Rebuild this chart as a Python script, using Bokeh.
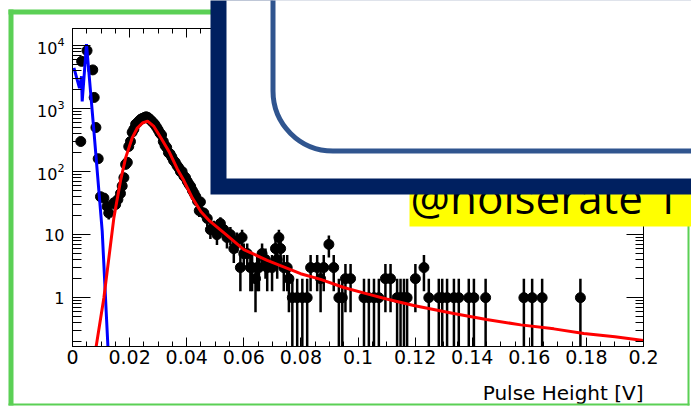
import numpy as np
from bokeh.plotting import figure
from bokeh.layouts import column
from bokeh.models import (LogAxis, LinearAxis, FixedTicker, LogTickFormatter,
                          BoxAnnotation, Label, Range1d, ColumnDataSource)
from bokeh.embed import file_html
from bokeh.resources import INLINE

# ---------------- data ----------------
pulse_height = [
    0.0029, 0.0032, 0.0051, 0.0071, 0.0076, 0.0082, 0.0090, 0.0098, 0.0110, 0.0121,
    0.0127, 0.0145, 0.0151, 0.0159, 0.0168, 0.0174, 0.0180, 0.0186, 0.0192, 0.0197,
    0.0203, 0.0209, 0.0215, 0.0221, 0.0228, 0.0234, 0.0240, 0.0246, 0.0252, 0.0258,
    0.0264, 0.0270, 0.0276, 0.0282, 0.0288, 0.0294, 0.0300, 0.0306, 0.0312, 0.0318,
    0.0324, 0.0330, 0.0336, 0.0342, 0.0348, 0.0354, 0.0360, 0.0366, 0.0372, 0.0378,
    0.0384, 0.0390, 0.0396, 0.0402, 0.0408, 0.0414, 0.0420, 0.0426, 0.0432, 0.0438,
    0.0444, 0.0448, 0.0460, 0.0472, 0.0483, 0.0495, 0.0506, 0.0518, 0.0530, 0.0541,
    0.0553, 0.0565, 0.0576, 0.0588, 0.0594, 0.0600, 0.0612, 0.0623, 0.0629, 0.0641,
    0.0647, 0.0653, 0.0664, 0.0676, 0.0682, 0.0699, 0.0711, 0.0717, 0.0723, 0.0729,
    0.0740, 0.0752, 0.0758, 0.0770, 0.0787, 0.0805, 0.0822, 0.0834, 0.0857, 0.0869,
    0.0880, 0.0898, 0.0915, 0.0933, 0.0945, 0.0956, 0.0974, 0.1021, 0.1038, 0.1056,
    0.1073, 0.1096, 0.1114, 0.1137, 0.1149, 0.1161, 0.1172, 0.1201, 0.1231, 0.1248,
    0.1283, 0.1295, 0.1312, 0.1336, 0.1353, 0.1388, 0.1406, 0.1447, 0.1581, 0.1610,
    0.1645, 0.1779,
]
entries = [
    300, 5600, 8300, 4100, 1500, 500, 160, 40, 38, 28,
    22, 32, 30, 36, 45, 59, 80, 130, 140, 250,
    300, 420, 470, 560, 600, 640, 680, 700, 720, 740,
    720, 680, 640, 600, 560, 510, 460, 410, 380, 300,
    260, 240, 200, 190, 170, 150, 140, 125, 115, 100,
    100, 85, 80, 70, 63, 58, 50, 45, 40, 34,
    24, 33, 22, 18, 12, 13, 10, 15, 12, 9,
    10, 6, 8, 3, 9, 5, 5, 3, 3, 2,
    3, 3, 5, 4, 3, 3, 6, 4, 9, 6,
    3, 3, 2, 1, 1, 1, 1, 3, 3, 2,
    3, 7, 3, 1, 1, 2, 2, 1, 1, 1,
    1, 2, 2, 1, 1, 1, 1, 2, 3, 1,
    1, 1, 1, 1, 1, 1, 1, 1, 1, 1,
    1, 1,
]

noise_fit_x = [0.0005, 0.00245, 0.00315, 0.0034, 0.0049, 0.0075, 0.0104, 0.0124, 0.0130]
noise_fit_y = [4400, 2100, 3240, 1300, 10500, 440, 11.5, 0.17, 0.07]

signal_fit_x = [0.0083, 0.0110, 0.0145, 0.0168, 0.0186, 0.0209, 0.0227, 0.0245, 0.0263,
                0.0285, 0.0310, 0.0340, 0.0367, 0.0390, 0.0420, 0.0450, 0.0480, 0.0536,
                0.0600, 0.0635, 0.0682, 0.0799, 0.0869, 0.0950, 0.1032, 0.1100, 0.1195,
                0.1335, 0.1450, 0.1570, 0.1686, 0.1791, 0.1900, 0.2000]
signal_fit_y = [0.17, 1.0, 18.6, 71, 165, 342, 490, 590, 630,
                520, 340, 200, 110, 72, 38, 23, 16.5, 10.2,
                5.8, 4.9, 3.9, 2.4, 1.95, 1.45, 1.15, 0.95, 0.75,
                0.56, 0.45, 0.37, 0.32, 0.27, 0.24, 0.21]

x_ticks = [0.0, 0.02, 0.04, 0.06, 0.08, 0.1, 0.12, 0.14, 0.16, 0.18, 0.2]
x_tick_labels = ["0", "0.02", "0.04", "0.06", "0.08", "0.1", "0.12", "0.14", "0.16", "0.18", "0.2"]
y_ticks = [1, 10, 100, 1000, 10000]
x_title = "Pulse Height [V]"
overlay_text = "@noiserate 1"

# ---------------- main chart ----------------
W, H = 691, 406
FL, FR, FT, FB = 72, 643, 28, 346   # frame edges in canvas pixels

p = figure(width=W, height=H, output_backend="svg", toolbar_location=None,
           x_range=Range1d(0.0, 0.2), y_range=Range1d(0.168, 18600),
           y_axis_type="log",
           min_border_left=FL, min_border_right=W - FR,
           min_border_top=FT, min_border_bottom=H - FB)
p.background_fill_color = "white"
p.border_fill_color = "white"
p.outline_line_color = "black"
p.outline_line_width = 1
p.xgrid.visible = False
p.ygrid.visible = False

x_minor = [round(0.005 * i, 4) for i in range(41)]
y_minor = [m * 10.0 ** e for e in range(-1, 5) for m in range(2, 10)]
xt = FixedTicker(ticks=x_ticks, minor_ticks=x_minor)
yt = FixedTicker(ticks=y_ticks, minor_ticks=y_minor)

xa = p.xaxis[0]
xa.ticker = xt
xa.major_label_overrides = {t: l for t, l in zip(x_ticks, x_tick_labels)}
xa.major_tick_in, xa.major_tick_out = 9, 0
xa.minor_tick_in, xa.minor_tick_out = 5, 0
xa.major_label_text_font = "DejaVu Sans"
xa.major_label_text_font_size = "19px"
xa.major_label_text_color = "black"
xa.major_label_standoff = 3
xa.axis_line_color = "black"

ya = p.yaxis[0]
ya.ticker = yt
ya.formatter = LogTickFormatter(min_exponent=2)
ya.major_tick_in, ya.major_tick_out = 18, 0
ya.minor_tick_in, ya.minor_tick_out = 9, 0
ya.major_label_text_font = "DejaVu Sans"
ya.major_label_text_font_size = "16px"
ya.major_label_text_color = "black"
ya.major_label_standoff = 8
ya.axis_line_color = "black"

top_ax = LinearAxis(ticker=xt, major_tick_in=9, major_tick_out=0, minor_tick_in=5,
                    minor_tick_out=0, major_label_text_color=None,
                    major_label_text_font_size="10px", major_label_standoff=0)
p.add_layout(top_ax, "above")
right_ax = LogAxis(ticker=yt, major_tick_in=17, major_tick_out=0, minor_tick_in=8,
                   minor_tick_out=0, major_label_text_color=None,
                   major_label_text_font_size="10px", major_label_standoff=0)
p.add_layout(right_ax, "right")

# data points with Poisson error bars
y = np.array(entries, dtype=float)
err = np.sqrt(y)
src = ColumnDataSource(dict(x=pulse_height, y=y,
                            lo=np.maximum(y - err, 1e-3), hi=y + err))
p.segment(x0="x", y0="lo", x1="x", y1="hi", source=src, line_color="black", line_width=2.5)
p.scatter(x="x", y="y", source=src, size=10, marker="circle",
          fill_color="black", line_color="black")

# fit curves
p.line(noise_fit_x, noise_fit_y, line_color="#0000ff", line_width=3)
p.line(signal_fit_x, signal_fit_y, line_color="#ff0000", line_width=3)

# ---------------- slide overlay (transparent figure on top, pixel coords, y down) ----------------
ov = figure(width=W, height=H, output_backend="svg", toolbar_location=None,
            x_range=Range1d(0, W), y_range=Range1d(H, 0),
            x_axis_location=None, y_axis_location=None, min_border=0)
ov.background_fill_color = None
ov.border_fill_color = None
ov.outline_line_color = None
ov.grid.visible = False
ov.styles = {"margin-top": f"-{H}px"}
for fig in (p, ov):
    if "frame_align" in fig.properties():
        fig.frame_align = False

# x-axis title, right-aligned with the frame's right edge
ov.add_layout(Label(x=FR, y=392, text=x_title, text_align="right", text_baseline="middle",
                    text_font="DejaVu Sans", text_font_size="20px", text_color="black"))

green = "#5bd055"
def box(l, r, t, b, **kw):
    return BoxAnnotation(left=l, right=r, top=t, bottom=b, **kw)

for l, r, t, b in [(8, 13, 9, 405), (8, 700, 9, 14), (687, 689, 9, 405), (8, 689, 403, 405)]:
    ov.add_layout(box(l, r, t, b, fill_color=green, fill_alpha=1, line_color=None))

ov.add_layout(box(409, 700, 170, 226, fill_color="#ffff00", fill_alpha=1, line_color=None))
ov.add_layout(Label(x=410, y=196, text=overlay_text,
                    text_align="left", text_baseline="alphabetic",
                    text_font="Open Sans", text_font_size="44px", text_color="black"))

ov.add_layout(box(210, 700, -10, 194, fill_color="#002060", fill_alpha=1, line_color=None))
ov.add_layout(box(226, 700, -10, 178, fill_color="white", fill_alpha=1, line_color=None))
ov.add_layout(box(272.5, 780, -120, 150.5, fill_color="white", fill_alpha=1,
                  line_color="#30558f", line_width=5, line_alpha=1, border_radius=60))

layout = column(p, ov, spacing=0)
open("out.html", "w").write(file_html(layout, INLINE))
